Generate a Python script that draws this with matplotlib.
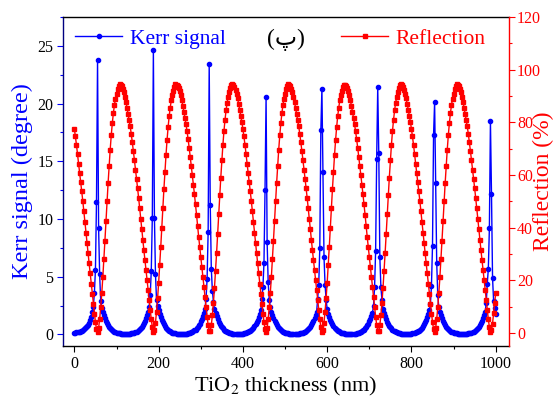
import numpy as np
import matplotlib
matplotlib.use("Agg")
import matplotlib.pyplot as plt
from matplotlib.ticker import MultipleLocator

plt.rcParams['font.family'] = ['Liberation Serif', 'DejaVu Sans']
plt.rcParams['mathtext.fontset'] = 'stix'

# TiO2 thickness grid (nm), one sample every 2.5 nm
thickness = np.arange(0, 1000.1, 2.5)

# Kerr signal (degree), one line per resonance period
kerr = [
    0.14, 0.15, 0.17, 0.19, 0.22, 0.25, 0.29, 0.34, 0.40, 0.46, 0.54, 0.62, 0.70, 0.82, 0.98, 1.22, 1.55, 1.92, 2.4, 3.6, 5.6, 11.5,
    23.8, 9.2, 5.2, 2.9, 2.3, 1.95, 1.67, 1.42, 1.18, 0.98, 0.82, 0.67, 0.55, 0.45, 0.36, 0.29, 0.24, 0.19, 0.155, 0.13,
    0.10, 0.085, 0.07, 0.06, 0.05, 0.04, 0.035, 0.035, 0.04, 0.05, 0.06, 0.07, 0.085, 0.10, 0.13, 0.155, 0.19, 0.24, 0.29, 0.37,
    0.45, 0.55, 0.68, 0.83, 0.99, 1.19, 1.44, 1.69, 1.97, 2.4, 3.4, 5.5, 10.1, 24.6,
    10.1, 5.2, 3.0, 2.5, 2.08, 1.75, 1.5, 1.25, 1.05, 0.87, 0.72, 0.59, 0.48, 0.39, 0.32, 0.255, 0.205, 0.165, 0.14, 0.105,
    0.09, 0.07, 0.06, 0.05, 0.043, 0.036, 0.035, 0.04, 0.045, 0.055, 0.065, 0.08, 0.095, 0.12, 0.15, 0.18, 0.225, 0.28, 0.345, 0.42,
    0.52, 0.64, 0.78, 0.93, 1.13, 1.36, 1.6, 1.87, 2.23, 3.1, 4.8, 8.9, 23.4,
    11.2, 5.7, 3.8, 2.85, 2.2, 1.85, 1.59, 1.34, 1.11, 0.92, 0.77, 0.63, 0.52, 0.42, 0.34, 0.275, 0.22, 0.175, 0.15, 0.12,
    0.095, 0.075, 0.065, 0.055, 0.045, 0.04, 0.035, 0.035, 0.04, 0.05, 0.06, 0.07, 0.09, 0.11, 0.14, 0.17, 0.21, 0.26, 0.32, 0.39,
    0.49, 0.6, 0.73, 0.88, 1.06, 1.27, 1.52, 1.78, 2.1, 3.1, 4.1, 6.2, 12.5,
    20.6, 8.0, 4.5, 3.0, 2.35, 1.95, 1.67, 1.42, 1.18, 0.98, 0.82, 0.67, 0.55, 0.45, 0.36, 0.29, 0.24, 0.19, 0.155, 0.13,
    0.10, 0.085, 0.07, 0.06, 0.05, 0.04, 0.035, 0.035, 0.04, 0.05, 0.06, 0.07, 0.085, 0.10, 0.13, 0.155, 0.19, 0.24, 0.29, 0.37,
    0.45, 0.55, 0.68, 0.83, 0.99, 1.19, 1.44, 1.69, 1.97, 3.1, 4.3, 7.5, 17.7, 21.3,
    14.1, 6.7, 4.3, 3.0, 2.2, 1.75, 1.5, 1.25, 1.05, 0.87, 0.72, 0.59, 0.48, 0.39, 0.32, 0.255, 0.205, 0.165, 0.14, 0.105,
    0.09, 0.07, 0.06, 0.05, 0.043, 0.036, 0.035, 0.04, 0.045, 0.055, 0.065, 0.08, 0.095, 0.12, 0.15, 0.18, 0.225, 0.28, 0.345, 0.42,
    0.52, 0.64, 0.78, 0.93, 1.13, 1.36, 1.6, 1.87, 2.5, 4.1, 7.2, 15.2, 21.4,
    15.7, 6.7, 4.1, 3.0, 2.2, 1.85, 1.59, 1.34, 1.11, 0.92, 0.77, 0.63, 0.52, 0.42, 0.34, 0.275, 0.22, 0.175, 0.15, 0.12,
    0.095, 0.075, 0.065, 0.055, 0.045, 0.04, 0.035, 0.035, 0.04, 0.05, 0.06, 0.07, 0.09, 0.11, 0.14, 0.17, 0.21, 0.26, 0.32, 0.39,
    0.49, 0.6, 0.73, 0.88, 1.06, 1.27, 1.52, 1.78, 2.1, 2.6, 4.2, 7.7, 17.3,
    20.1, 13.1, 6.2, 3.4, 2.35, 1.95, 1.67, 1.42, 1.18, 0.98, 0.82, 0.67, 0.55, 0.45, 0.36, 0.29, 0.24, 0.19, 0.155, 0.13,
    0.10, 0.085, 0.07, 0.06, 0.05, 0.04, 0.035, 0.035, 0.04, 0.05, 0.06, 0.07, 0.085, 0.10, 0.13, 0.155, 0.19, 0.24, 0.29, 0.37,
    0.45, 0.55, 0.68, 0.83, 0.99, 1.19, 1.44, 1.69, 1.97, 2.7, 4.4, 5.7, 9.2, 18.5,
    12.2, 4.9, 2.9, 2.3, 1.8,
]

# Reflection (%)
reflection = [
    77.5, 74.6, 71.4, 67.9, 64.3, 60.9, 57.4, 53.8, 50.1, 46.1, 42.0, 37.9, 34.0, 30.2, 26.4, 22.6, 18.7, 14.9, 11.0, 7.3, 4.0, 1.5,
    0.5, 1.8, 5.2, 9.7, 15.0, 21.1, 27.9, 35.0, 42.5, 49.9, 56.8, 63.3, 69.6, 75.0, 79.6, 83.4, 86.5, 89.0, 90.9, 92.5,
    93.7, 94.5, 94.2, 93.6, 92.7, 91.4, 89.7, 87.8, 85.5, 83.2, 80.9, 78.4, 75.6, 72.5, 69.1, 65.5, 62.0, 58.6, 55.1, 51.3,
    47.5, 43.4, 39.3, 35.2, 31.4, 27.6, 23.8, 20.0, 16.1, 12.3, 8.5, 5.1, 2.2, 0.4,
    1.1, 3.9, 8.1, 13.1, 19.0, 25.6, 32.6, 40.0, 47.5, 54.6, 61.1, 67.6, 73.3, 78.2, 82.3, 85.6, 88.3, 90.3, 92.0, 93.3,
    94.4, 94.3, 93.9, 93.0, 91.9, 90.3, 88.5, 86.3, 83.9, 81.7, 79.2, 76.6, 73.6, 70.3, 66.7, 63.2, 59.8, 56.3, 52.6, 48.8,
    44.8, 40.6, 36.5, 32.7, 28.9, 25.1, 21.3, 17.4, 13.6, 9.7, 6.2, 3.0, 0.8,
    0.8, 2.9, 6.6, 11.4, 17.0, 23.4, 30.2, 37.5, 45.0, 52.2, 59.0, 65.5, 71.4, 76.6, 80.9, 84.5, 87.4, 89.7, 91.5, 92.9,
    94.0, 94.4, 94.0, 93.3, 92.3, 90.9, 89.1, 87.0, 84.7, 82.4, 80.1, 77.5, 74.6, 71.4, 67.9, 64.3, 60.9, 57.4, 53.8, 50.1,
    46.1, 42.0, 37.9, 34.0, 30.2, 26.4, 22.6, 18.7, 14.9, 11.0, 7.3, 4.0, 1.5,
    0.5, 1.8, 5.2, 9.7, 15.0, 21.1, 27.9, 35.0, 42.5, 49.9, 56.8, 63.3, 69.6, 75.0, 79.6, 83.4, 86.5, 89.0, 90.9, 92.5,
    93.7, 94.4, 94.2, 93.6, 92.7, 91.4, 89.7, 87.8, 85.5, 83.2, 80.9, 78.4, 75.6, 72.5, 69.1, 65.5, 62.0, 58.6, 55.1, 51.3,
    47.5, 43.4, 39.3, 35.2, 31.4, 27.6, 23.8, 20.0, 16.1, 12.3, 8.5, 5.1, 2.2, 0.4,
    1.1, 3.9, 8.1, 13.1, 19.0, 25.6, 32.6, 40.0, 47.5, 54.6, 61.1, 67.6, 73.3, 78.2, 82.3, 85.6, 88.3, 90.3, 92.0, 93.3,
    94.3, 94.3, 93.9, 93.0, 91.9, 90.3, 88.5, 86.3, 83.9, 81.7, 79.2, 76.6, 73.6, 70.3, 66.7, 63.2, 59.8, 56.3, 52.6, 48.8,
    44.8, 40.6, 36.5, 32.7, 28.9, 25.1, 21.3, 17.4, 13.6, 9.7, 6.2, 3.0, 0.8,
    0.8, 2.9, 6.6, 11.4, 17.0, 23.4, 30.2, 37.5, 45.0, 52.2, 59.0, 65.5, 71.4, 76.6, 80.9, 84.5, 87.4, 89.7, 91.5, 92.9,
    94.0, 94.4, 94.0, 93.3, 92.3, 90.9, 89.1, 87.0, 84.7, 82.4, 80.1, 77.5, 74.6, 71.4, 67.9, 64.3, 60.9, 57.4, 53.8, 50.1,
    46.1, 42.0, 37.9, 34.0, 30.2, 26.4, 22.6, 18.7, 14.9, 11.0, 7.3, 4.0, 1.5,
    0.5, 1.8, 5.2, 9.7, 15.0, 21.1, 27.9, 35.0, 42.5, 49.9, 56.8, 63.3, 69.6, 75.0, 79.6, 83.4, 86.5, 89.0, 90.9, 92.5,
    93.7, 94.4, 94.2, 93.6, 92.7, 91.4, 89.7, 87.8, 85.5, 83.2, 80.9, 78.4, 75.6, 72.5, 69.1, 65.5, 62.0, 58.6, 55.1, 51.3,
    47.5, 43.4, 39.3, 35.2, 31.4, 27.6, 23.8, 20.0, 16.1, 12.3, 8.5, 5.1, 2.2, 0.4,
    1.0, 3.5, 7.5, 11.5, 15.0,
]

x_ticks = [0, 200, 400, 600, 800, 1000]
kerr_ticks = [0, 5, 10, 15, 20, 25]
refl_ticks = [0, 20, 40, 60, 80, 100, 120]

BLUE = '#0000ff'
RED = '#ff0000'
NAVY = '#000080'

fig = plt.figure(figsize=(5.57, 4.01), dpi=100)
ax1 = fig.add_axes([0.1131, 0.1372, 0.8003, 0.8204])
ax2 = ax1.twinx()

ax1.plot(thickness, kerr, '-', color=BLUE, lw=1.0, marker='o', ms=3,
         mec=BLUE, mfc=BLUE, label='Kerr signal')
ax2.plot(thickness, reflection, '-', color=RED, lw=1.0, marker='s', ms=3,
         mec=RED, mfc=RED, label='Reflection')

ax1.set_xlim(-27, 1031)
ax1.set_ylim(-1.0, 27.5)
ax2.set_ylim(-5, 120)

ax1.set_xticks(x_ticks)
ax1.xaxis.set_minor_locator(MultipleLocator(100))
ax1.set_yticks(kerr_ticks)
ax1.yaxis.set_minor_locator(MultipleLocator(2.5))
ax2.set_yticks(refl_ticks)
ax2.yaxis.set_minor_locator(MultipleLocator(10))

ax1.tick_params(axis='x', which='major', direction='out', length=4, width=0.8,
                labelsize=11.5, colors='black', top=False, pad=3)
ax1.tick_params(axis='x', which='minor', direction='out', length=2.2, width=0.8, top=False)
ax1.tick_params(axis='y', which='major', direction='out', length=4, width=0.8,
                labelsize=11.5, color=BLUE, labelcolor='black', pad=3)
ax1.tick_params(axis='y', which='minor', direction='out', length=2.2, width=0.8, color=BLUE)
ax2.tick_params(axis='y', which='major', direction='out', length=4, width=0.8,
                labelsize=11.5, color=RED, labelcolor=RED, pad=2)
ax2.tick_params(axis='y', which='minor', direction='out', length=2.2, width=0.8, color=RED)

for sp in ['top', 'bottom']:
    ax1.spines[sp].set_color('black')
    ax1.spines[sp].set_linewidth(1.0)
ax1.spines['left'].set_color(NAVY)
ax1.spines['left'].set_linewidth(1.0)
ax1.spines['right'].set_visible(False)
ax2.spines['left'].set_visible(False)
ax2.spines['top'].set_visible(False)
ax2.spines['bottom'].set_visible(False)
ax2.spines['right'].set_color(RED)
ax2.spines['right'].set_linewidth(1.0)

ax1.set_xlabel('TiO$_2$ thickness (nm)', fontsize=16, labelpad=2)
ax1.set_ylabel('Kerr signal (degree)', fontsize=17.5, color=BLUE, labelpad=3)
ax2.set_ylabel('Reflection (%)', fontsize=17, color=RED, labelpad=-6)

leg1 = ax1.legend(loc='upper left', frameon=False, fontsize=15.5, handlelength=2.2,
                  numpoints=1, borderaxespad=0.15, handletextpad=0.35,
                  bbox_to_anchor=(0.0, 1.0))
for t in leg1.get_texts():
    t.set_color(BLUE)
leg2 = ax2.legend(loc='upper right', frameon=False, fontsize=15.5, handlelength=2.2,
                  numpoints=1, borderaxespad=0.15, handletextpad=0.35,
                  bbox_to_anchor=(0.975, 1.0))
for t in leg2.get_texts():
    t.set_color(RED)

ax1.text(0.5, 0.93, '(پ)', transform=ax1.transAxes, ha='center', va='center',
         fontsize=17, color='black', family=['Liberation Serif', 'DejaVu Sans'])

fig.savefig('out.png', dpi=100)
